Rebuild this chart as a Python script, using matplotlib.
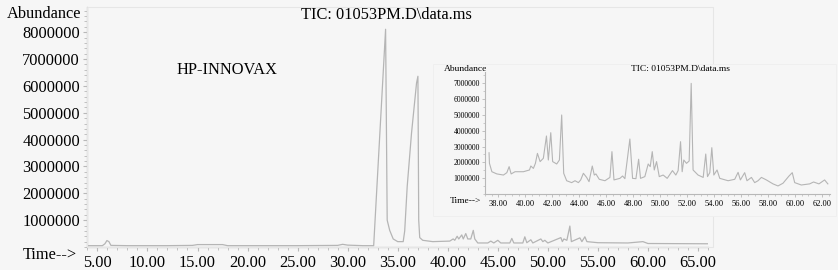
import numpy as np
import matplotlib
matplotlib.use("Agg")
import matplotlib.pyplot as plt
from matplotlib.patches import Rectangle
from matplotlib.ticker import MultipleLocator, FixedLocator, FuncFormatter

plt.rcParams['font.family'] = ['Liberation Serif', 'DejaVu Serif']

# main chromatogram (time in min, abundance in millions)
main_time = [3.96, 5.5, 5.75, 5.95, 6.15, 6.35, 8.0, 12.0, 14.5, 15.0, 17.5, 18.0,
             25.0, 29.0, 29.5, 30.0, 31.5, 32.6, 33.79, 33.95, 34.2, 34.55, 35.0,
             35.55, 35.7, 35.95, 36.38, 36.88, 37.02, 37.1, 37.2, 37.5, 38.5, 40.2,
             40.54, 40.7, 40.94, 41.1, 41.4, 41.55, 41.8, 42.0, 42.3, 42.55, 42.7,
             43.0, 44.0, 44.3, 44.6, 45.0, 45.3, 46.2, 46.4, 46.6, 47.5, 47.7, 47.9,
             48.3, 48.5, 49.3, 49.5, 49.7, 50.0, 51.3, 51.45, 51.6, 51.9, 52.2, 52.35,
             53.2, 53.4, 53.7, 53.9, 55.0, 58.0, 59.5, 60.0, 66.0]
main_abund = [0.05, 0.05, 0.12, 0.24, 0.2, 0.06, 0.05, 0.05, 0.06, 0.09, 0.09, 0.05,
              0.05, 0.06, 0.1, 0.07, 0.05, 0.05, 8.11, 1.0, 0.62, 0.3, 0.2,
              0.2, 0.6, 2.26, 4.24, 6.1, 6.36, 1.0, 0.35, 0.25, 0.2, 0.22,
              0.3, 0.25, 0.4, 0.3, 0.45, 0.3, 0.5, 0.3, 0.3, 0.62, 0.3,
              0.15, 0.15, 0.22, 0.15, 0.25, 0.15, 0.15, 0.32, 0.15, 0.15, 0.38, 0.16,
              0.27, 0.15, 0.3, 0.2, 0.25, 0.15, 0.35, 0.2, 0.3, 0.25, 0.78, 0.2,
              0.34, 0.2, 0.38, 0.2, 0.16, 0.15, 0.2, 0.13, 0.12]

# inset (zoomed region)
ins_time = [37.3, 37.33, 37.51, 37.88, 38.37, 38.62, 38.79, 38.94, 39.23, 39.85, 40.3,
            40.4, 40.59, 40.74, 40.89, 41.09, 41.33, 41.56, 41.7, 41.88, 42.02, 42.32,
            42.52, 42.69, 42.84, 43.06, 43.43, 43.68, 43.93, 44.1, 44.3, 44.54, 44.72,
            44.96, 45.11, 45.23, 45.48, 45.9, 46.27, 46.42, 46.57, 47.01, 47.21, 47.38,
            47.75, 47.95, 48.2, 48.4, 48.54, 48.86, 49.11, 49.26, 49.41, 49.56, 49.73,
            49.93, 50.22, 50.52, 50.91, 51.16, 51.33, 51.51, 51.63, 51.75, 51.95, 52.15,
            52.3, 52.44, 52.81, 53.19, 53.38, 53.51, 53.68, 53.83, 53.98, 54.22, 54.42,
            55.04, 55.53, 55.78, 55.95, 56.27, 56.44, 56.77, 57.01, 57.26, 57.51, 57.88,
            58.37, 58.74, 59.11, 59.56, 59.8, 59.98, 60.47, 61.09, 61.38, 61.78, 62.2,
            62.44]
ins_abund = [2.61, 1.94, 1.41, 1.27, 1.2, 1.35, 1.73, 1.27, 1.41, 1.41, 1.52,
             1.77, 1.62, 1.94, 2.57, 2.05, 2.26, 3.67, 2.15, 3.88, 2.05, 1.9,
             2.15, 5.0, 1.31, 0.84, 0.72, 0.84, 0.72, 0.89, 1.31, 1.05, 0.78,
             1.77, 1.2, 1.27, 0.93, 0.84, 1.05, 2.68, 0.89, 0.99, 1.14, 0.97,
             3.48, 0.99, 0.97, 2.2, 0.99, 1.1, 1.9, 1.73, 2.68, 1.52, 2.05,
             1.1, 1.2, 0.99, 1.48, 1.2, 1.48, 3.31, 1.41, 2.15, 1.94, 2.09,
             7.0, 1.52, 1.2, 1.05, 2.53, 1.1, 1.35, 2.93, 1.2, 1.52, 0.99,
             0.84, 0.93, 1.37, 0.89, 1.35, 0.84, 1.05, 0.72, 0.84, 1.05, 0.89,
             0.64, 0.51, 0.68, 1.14, 1.35, 0.72, 0.57, 0.64, 0.76, 0.64, 0.89,
             0.64]

main_yticks = [1, 2, 3, 4, 5, 6, 7, 8]
ins_yticks = [1, 2, 3, 4, 5, 6, 7]

W, H = 838, 270
bg = "#f6f6f6"
line_c = "#b5b5b5"
spine_c = "#b8b8b8"

def fx(px):
    return px / W

def fy(py):
    return 1 - py / H

fig = plt.figure(figsize=(8.38, 2.70), dpi=100, facecolor=bg)

# faint outer frame of the main plot
fig.patches.append(Rectangle((fx(87), fy(247)), fx(713) - fx(87), fy(7) - fy(247),
                             transform=fig.transFigure, fill=False, ec="#e6e6e6",
                             lw=0.8, zorder=0.5))

ax = fig.add_axes([fx(87), fy(247), fx(708) - fx(87), fy(7) - fy(247)])
ax.patch.set_visible(False)
ax.plot(main_time, np.array(main_abund) * 1e6, color=line_c, lw=0.9)
ax.set_xlim(3.96, 66.0)
ax.set_ylim(0, 8.94e6)
for s in ["top", "right"]:
    ax.spines[s].set_visible(False)
for s in ["left", "bottom"]:
    ax.spines[s].set_color(spine_c)
    ax.spines[s].set_linewidth(0.9)
ax.xaxis.set_major_locator(MultipleLocator(5))
ax.xaxis.set_minor_locator(MultipleLocator(1))
ax.xaxis.set_major_formatter(FuncFormatter(lambda v, p: "%.2f" % v))
ax.yaxis.set_major_locator(FixedLocator([v * 1e6 for v in main_yticks]))
ax.yaxis.set_minor_locator(MultipleLocator(0.2e6))
ax.yaxis.set_major_formatter(FuncFormatter(lambda v, p: "%d" % round(v)))
ax.tick_params(which="both", direction="out", color=spine_c, labelsize=11.8)
ax.tick_params(which="major", length=3, width=0.8)
ax.tick_params(which="minor", length=2, width=0.6)
ax.tick_params(axis="x", pad=3)
ax.tick_params(axis="y", pad=2)

fig.text(fx(7), fy(14), "Abundance", fontsize=11.8, ha="left", va="center")
fig.text(fx(386), fy(15), "TIC: 01053PM.D\\data.ms", fontsize=11.8, ha="center", va="center")
fig.text(fx(227), fy(70), "HP-INNOVAX", fontsize=11.8, ha="center", va="center")
fig.text(fx(23), fy(255), "Time-->", fontsize=11.8, ha="left", va="center")

# inset background box (very faint edge)
fig.patches.append(Rectangle((fx(433), fy(216)), fx(836) - fx(433), fy(64) - fy(216),
                             transform=fig.transFigure, fc=bg, ec="#efefef",
                             lw=0.7, zorder=1))

ins = fig.add_axes([fx(485), fy(194), fx(830) - fx(485), fy(72) - fy(194)], zorder=2)
ins.patch.set_visible(False)
ins.plot(ins_time, np.array(ins_abund) * 1e6, color=line_c, lw=0.8)
ins.set_xlim(37.0, 62.6)
ins.set_ylim(0, 7.72e6)
for s in ["top", "right"]:
    ins.spines[s].set_visible(False)
for s in ["left", "bottom"]:
    ins.spines[s].set_color(spine_c)
    ins.spines[s].set_linewidth(0.8)
ins.xaxis.set_major_locator(MultipleLocator(2))
ins.xaxis.set_minor_locator(MultipleLocator(0.5))
ins.xaxis.set_major_formatter(FuncFormatter(lambda v, p: "%.2f" % v))
ins.yaxis.set_major_locator(FixedLocator([v * 1e6 for v in ins_yticks]))
ins.yaxis.set_minor_locator(MultipleLocator(0.5e6))
ins.yaxis.set_major_formatter(FuncFormatter(lambda v, p: "%d" % round(v)))
ins.tick_params(which="both", direction="out", color=spine_c)
ins.tick_params(which="major", length=2, width=0.6)
ins.tick_params(which="minor", length=1.2, width=0.5)
ins.tick_params(axis="x", labelsize=6.0, pad=2.5)
ins.tick_params(axis="y", labelsize=5.6, pad=1.5)

fig.text(fx(487), fy(69), "Abundance", fontsize=6.8, ha="right", va="center")
fig.text(fx(680), fy(69), "TIC: 01053PM.D\\data.ms", fontsize=6.8, ha="center", va="center")
fig.text(fx(450), fy(201), "Time-->", fontsize=6.8, ha="left", va="center")

fig.savefig("out.png", dpi=100, facecolor=bg)
